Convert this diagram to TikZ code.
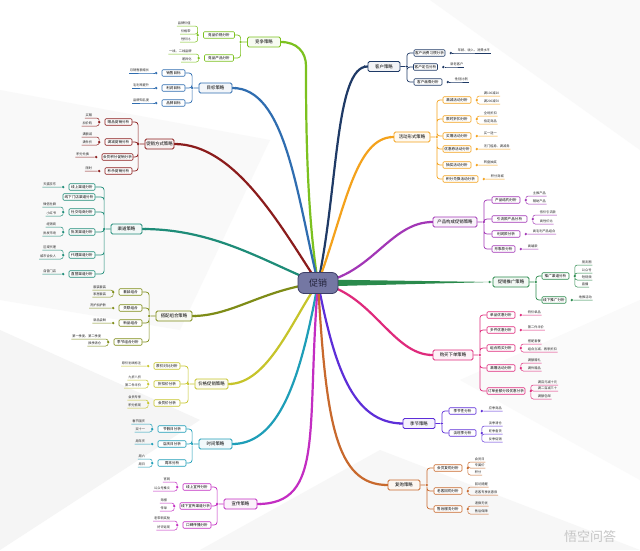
\documentclass[tikz,border=0pt]{standalone}
\usepackage{fontspec}
\setmainfont{Noto Sans CJK SC}
\usepackage{xcolor}
\usetikzlibrary{positioning,calc}
\pgfdeclarelayer{bg}
\pgfsetlayers{bg,main}
\newcommand{\fsz}[1]{\fontsize{#1}{#1}\selectfont}
\definecolor{clime}{HTML}{7CC11F}
\definecolor{cblue}{HTML}{2F6DB0}
\definecolor{cmaroon}{HTML}{8B1C1C}
\definecolor{cteal}{HTML}{1E8C78}
\definecolor{colive}{HTML}{7E8C17}
\definecolor{cyell}{HTML}{C6C42A}
\definecolor{ccyan}{HTML}{1E9EB8}
\definecolor{cmag}{HTML}{C32DC2}
\definecolor{cnavy}{HTML}{1F3A66}
\definecolor{corange}{HTML}{F4A21C}
\definecolor{cpurp}{HTML}{A236B6}
\definecolor{cgreenr}{HTML}{2A8A4C}
\definecolor{cpink}{HTML}{DF2A7C}
\definecolor{cviol}{HTML}{5D2ED8}
\definecolor{cbrown}{HTML}{C8692D}
\definecolor{cslate}{HTML}{7477A3}
\definecolor{cslated}{HTML}{3C3E66}
\tikzset{
  root/.style={draw=cslated, fill=cslate, rounded corners=6pt, line width=0.8pt,
    minimum width=40pt, minimum height=21pt, inner sep=1pt, font=\fsz{9}, text=cslated!60!black},
  topic/.style={draw=#1, fill=#1!6, rounded corners=1.5pt, line width=0.8pt,
    minimum width=33pt, minimum height=10pt, inner sep=1pt, font=\fsz{4.4}},
  subbox/.style={draw=#1, fill=white, rounded corners=1pt, line width=0.6pt,
    minimum width=28pt, minimum height=6.5pt, inner sep=0.8pt, font=\fsz{3.6}},
  leafL/.style={anchor=south east, inner sep=0.7pt, font=\fsz{3.2}, text=black!85},
  leafR/.style={anchor=south west, inner sep=0.7pt, font=\fsz{3.2}, text=black!85},
  jn/.style={circle, fill=#1, inner sep=0pt, minimum size=2.6pt},
  trunk/.style={draw=#1, line width=2.2pt, line cap=round},
  lk/.style={draw=#1, line width=0.7pt, rounded corners=3pt},
  lf/.style={draw=#1, line width=0.5pt, rounded corners=2.5pt}
}
\begin{document}
\begin{tikzpicture}[x=1pt,y=-1pt]
\useasboundingbox (0,0) rectangle (640,550);
\begin{pgfonlayer}{bg}
\fill[white] (0,0) rectangle (640,550);
\fill[gray!5] (0,90) -- (270,140) -- (180,330) -- (0,300) -- cycle;
\fill[gray!8] (0,330) -- (200,420) -- (0,550) -- cycle;
\fill[gray!6] (200,550) -- (380,450) -- (640,550) -- cycle;
\fill[gray!5] (430,0) -- (640,0) -- (640,150) -- cycle;
\fill[gray!4] (460,380) -- (640,300) -- (640,480) -- cycle;
\end{pgfonlayer}

\node[root] (c) at (318,283) {促销};

%%% 竞争策略
\node[topic=clime] (g) at (264,42) {竞争策略};
\node[jn=clime, left=5pt of g] (gj) {};
\node[jn=clime, right=1.5pt of g] (ge) {};
\coordinate (gk) at (306,66);
\node[subbox=clime, minimum width=31pt] (g1) at (219,35) {竞品价格分析};
\node[subbox=clime, minimum width=29pt] (g2) at (219,58) {竞品产品分析};
\node[jn=clime, left=4pt of g1] (g1j) {};
\node[jn=clime, left=4pt of g2] (g2j) {};
\node[leafL] (g1a) at (191.5,26) {品牌价值};
\node[leafL] (g1b) at (191.5,34) {价格带};
\node[leafL] (g1c) at (191.5,42) {性价比};
\node[leafL] (g2a) at (192.5,54) {一线、二线品牌};
\node[leafL] (g2b) at (192.5,62) {差异化};
\draw[lk=clime] (g) -- (gj) (gj) |- (g1) (gj) |- (g2);
\draw[lf=clime] (g1j) |- (g1a.south east) -- (g1a.south west) (g1j) |- (g1b.south east) -- (g1b.south west)
  (g1j) |- (g1c.south east) -- (g1c.south west);
\draw[lf=clime] (g2j) |- (g2a.south east) -- (g2a.south west) (g2j) |- (g2b.south east) -- (g2b.south west);

%%% 目标策略
\node[topic=cblue] (b) at (215.5,88) {目标策略};
\node[jn=cblue, left=5pt of b] (bj) {};
\node[jn=cblue, right=1.5pt of b] (be) {};
\node[subbox=cblue, minimum width=23pt] (b1) at (173.5,73) {销售目标};
\node[subbox=cblue, minimum width=23pt] (b2) at (173.5,88) {利润目标};
\node[subbox=cblue, minimum width=23pt] (b3) at (173.5,103) {品牌目标};
\node[jn=cblue, left=4pt of b1] (b1j) {};
\node[jn=cblue, left=4pt of b2] (b2j) {};
\node[jn=cblue, left=4pt of b3] (b3j) {};
\node[leafL] (b1a) at (150,73) {月销售额增长};
\node[leafL] (b2a) at (150,88) {毛利率提升};
\node[leafL] (b3a) at (150,103) {品牌知名度};
\draw[lk=cblue] (b) -- (bj) (bj) |- (b1) (bj) |- (b2) (bj) |- (b3);
\draw[lf=cblue] (b1j) -- (b1a.south east) -- (b1a.south west) (b2j) -- (b2a.south east) -- (b2a.south west)
  (b3j) -- (b3a.south east) -- (b3a.south west);

%%% 促销方式策略
\node[topic=cmaroon, minimum width=29pt] (r) at (159.5,144) {促销方式策略};
\node[jn=cmaroon, left=5pt of r] (rj) {};
\node[jn=cmaroon, right=1.5pt of r] (re) {};
\node[subbox=cmaroon, minimum width=27pt] (r1) at (118.5,122) {赠品促销分析};
\node[subbox=cmaroon, minimum width=27pt] (r2) at (118.5,142) {满减促销分析};
\node[subbox=cmaroon, minimum width=31pt] (r3) at (117.5,157) {会员积分促销分析};
\node[subbox=cmaroon, minimum width=27pt] (r4) at (118.5,171) {秒杀促销分析};
\node[jn=cmaroon, left=4pt of r1] (r1j) {};
\node[jn=cmaroon, left=4pt of r2] (r2j) {};
\node[jn=cmaroon, left=4pt of r3] (r3j) {};
\node[jn=cmaroon, left=4pt of r4] (r4j) {};
\node[leafL] (r1a) at (93,118) {买赠};
\node[leafL] (r1b) at (93,126) {加价购};
\node[leafL] (r2a) at (93,137) {满额减};
\node[leafL] (r2b) at (93,145) {满件折};
\node[leafL] (r3a) at (90,157) {积分兑换};
\node[leafL] (r4a) at (93,171) {限时};
\draw[lk=cmaroon] (r) -- (rj) (rj) |- (r1) (rj) |- (r2) (rj) |- (r3) (rj) |- (r4);
\draw[lf=cmaroon] (r1j) |- (r1a.south east) -- (r1a.south west) (r1j) |- (r1b.south east) -- (r1b.south west)
  (r2j) |- (r2a.south east) -- (r2a.south west) (r2j) |- (r2b.south east) -- (r2b.south west)
  (r3j) -- (r3a.south east) -- (r3a.south west) (r4j) -- (r4a.south east) -- (r4a.south west);

%%% 渠道策略
\node[topic=cteal, minimum width=31pt] (t) at (126.5,229) {渠道策略};
\node[jn=cteal, left=5pt of t] (tj) {};
\node[jn=cteal, right=1.5pt of t] (te) {};
\node[subbox=cteal, minimum width=26pt] (t1) at (82,187) {线上渠道分析};
\node[subbox=cteal, minimum width=32pt] (t2) at (79,197) {线下门店渠道分析};
\node[subbox=cteal, minimum width=26pt] (t3) at (82,212) {社交电商分析};
\node[subbox=cteal, minimum width=26pt] (t4) at (82,232) {批发渠道分析};
\node[subbox=cteal, minimum width=26pt] (t5) at (82,255) {代理渠道分析};
\node[subbox=cteal, minimum width=26pt] (t6) at (82,274) {直营渠道分析};
\node[jn=cteal, left=4pt of t1] (t1j) {};
\node[jn=cteal, left=4pt of t3] (t3j) {};
\node[jn=cteal, left=4pt of t4] (t4j) {};
\node[jn=cteal, left=4pt of t5] (t5j) {};
\node[jn=cteal, left=4pt of t6] (t6j) {};
\node[leafL] (t1a) at (57,187) {天猫京东};
\node[leafL] (t3a) at (57,207) {微信社群};
\node[leafL] (t3b) at (57,216) {小红书};
\node[leafL] (t4a) at (57,227) {经销商};
\node[leafL] (t4b) at (57,236) {批发市场};
\node[leafL] (t5a) at (57,250) {区域代理};
\node[leafL] (t5b) at (57,259) {城市合伙人};
\node[leafL] (t6a) at (57,274) {自营门店};
\draw[lk=cteal] (t) -- (tj) (tj) |- (t1) (tj) |- (t2) (tj) |- (t3) (tj) |- (t4) (tj) |- (t5) (tj) |- (t6);
\draw[lf=cteal] (t1j) -- (t1a.south east) -- (t1a.south west)
  (t3j) |- (t3a.south east) -- (t3a.south west) (t3j) |- (t3b.south east) -- (t3b.south west)
  (t4j) |- (t4a.south east) -- (t4a.south west) (t4j) |- (t4b.south east) -- (t4b.south west)
  (t5j) |- (t5a.south east) -- (t5a.south west) (t5j) |- (t5b.south east) -- (t5b.south west)
  (t6j) -- (t6a.south east) -- (t6a.south west);

%%% 搭配组合策略
\node[topic=colive, minimum width=36pt] (o) at (174,316) {搭配组合策略};
\node[jn=colive, left=5pt of o] (oj) {};
\node[jn=colive, right=1.5pt of o] (oe) {};
\node[subbox=colive, minimum width=23pt] (o1) at (130.5,292) {套装组合};
\node[subbox=colive, minimum width=23pt] (o2) at (130.5,308) {关联组合};
\node[subbox=colive, minimum width=23pt] (o3) at (130.5,323) {新品组合};
\node[subbox=colive, minimum width=28pt] (o4) at (128,342) {季节组合分析};
\node[jn=colive, left=4pt of o1] (o1j) {};
\node[jn=colive, left=4pt of o2] (o2j) {};
\node[jn=colive, left=4pt of o3] (o3j) {};
\node[jn=colive, left=4pt of o4] (o4j) {};
\node[leafL] (o1a) at (107,290) {服装套装};
\node[leafL] (o1b) at (107,297) {家居套装};
\node[leafL] (o2a) at (107,308) {洗护加护肤};
\node[leafL] (o3a) at (107,323) {新品尝鲜};
\node[leafL] (o4a) at (102,339) {第一季度、第二季度};
\node[leafL] (o4b) at (102,346) {换季清仓};
\draw[lk=colive] (o) -- (oj) (oj) |- (o1) (oj) |- (o2) (oj) |- (o3) (oj) |- (o4);
\draw[lf=colive] (o1j) |- (o1a.south east) -- (o1a.south west) (o1j) |- (o1b.south east) -- (o1b.south west)
  (o2j) -- (o2a.south east) -- (o2a.south west) (o3j) -- (o3a.south east) -- (o3a.south west)
  (o4j) |- (o4a.south east) -- (o4a.south west) (o4j) |- (o4b.south east) -- (o4b.south west);

%%% 价格促销策略
\node[topic=cyell] (ye) at (211.5,384) {价格促销策略};
\node[jn=cyell, left=5pt of ye] (yej) {};
\node[jn=cyell, right=1.5pt of ye] (yee) {};
\node[subbox=cyell, minimum width=26pt] (ye1) at (167,366) {原价对比分析};
\node[subbox=cyell, minimum width=26pt] (ye2) at (167,384) {折扣价分析};
\node[subbox=cyell, minimum width=26pt] (ye3) at (167,403) {会员价分析};
\node[jn=cyell, left=4pt of ye1] (ye1j) {};
\node[jn=cyell, left=4pt of ye2] (ye2j) {};
\node[jn=cyell, left=4pt of ye3] (ye3j) {};
\node[leafL] (ye1a) at (142,366) {原价划线标注};
\node[leafL] (ye2a) at (142,380) {九折八折};
\node[leafL] (ye2b) at (142,388) {第二件半价};
\node[leafL] (ye3a) at (142,400) {会员专享};
\node[leafL] (ye3b) at (142,408) {积分抵现};
\draw[lk=cyell] (ye) -- (yej) (yej) |- (ye1) (yej) |- (ye2) (yej) |- (ye3);
\draw[lf=cyell] (ye1j) -- (ye1a.south east) -- (ye1a.south west)
  (ye2j) |- (ye2a.south east) -- (ye2a.south west) (ye2j) |- (ye2b.south east) -- (ye2b.south west)
  (ye3j) |- (ye3a.south east) -- (ye3a.south west) (ye3j) |- (ye3b.south east) -- (ye3b.south west);

%%% 时间策略
\node[topic=ccyan] (cy) at (215.5,444) {时间策略};
\node[jn=ccyan, left=5pt of cy] (cyj) {};
\node[jn=ccyan, right=1.5pt of cy] (cye) {};
\node[subbox=ccyan] (cy1) at (172,429) {节假日分析};
\node[subbox=ccyan] (cy2) at (172,444) {店庆日分析};
\node[subbox=ccyan] (cy3) at (172,463) {周末分析};
\node[jn=ccyan, left=4pt of cy1] (cy1j) {};
\node[jn=ccyan, left=4pt of cy2] (cy2j) {};
\node[jn=ccyan, left=4pt of cy3] (cy3j) {};
\node[leafL] (cy1a) at (146,424) {春节国庆};
\node[leafL] (cy1b) at (146,432) {双十一};
\node[leafL] (cy2a) at (146,444) {周年庆};
\node[leafL] (cy3a) at (146,459) {周六};
\node[leafL] (cy3b) at (146,467) {周日};
\draw[lk=ccyan] (cy) -- (cyj) (cyj) |- (cy1) (cyj) |- (cy2) (cyj) |- (cy3);
\draw[lf=ccyan] (cy1j) |- (cy1a.south east) -- (cy1a.south west) (cy1j) |- (cy1b.south east) -- (cy1b.south west)
  (cy2j) -- (cy2a.south east) -- (cy2a.south west)
  (cy3j) |- (cy3a.south east) -- (cy3a.south west) (cy3j) |- (cy3b.south east) -- (cy3b.south west);

%%% 宣传策略
\node[topic=cmag] (m) at (240.5,504) {宣传策略};
\node[jn=cmag, left=5pt of m] (mj) {};
\node[jn=cmag, right=1.5pt of m] (me) {};
\node[subbox=cmag] (m1) at (197,487) {线上宣传分析};
\node[subbox=cmag, minimum width=31pt] (m2) at (195.5,506) {线下宣传渠道分析};
\node[subbox=cmag] (m3) at (197,525) {口碑传播分析};
\node[jn=cmag, left=4pt of m1] (m1j) {};
\node[jn=cmag, left=4pt of m2] (m2j) {};
\node[jn=cmag, left=4pt of m3] (m3j) {};
\node[leafL] (m1a) at (171,482) {官网};
\node[leafL] (m1b) at (171,491) {公众号推文};
\node[leafL] (m2a) at (168,503) {海报};
\node[leafL] (m2b) at (168,511) {传单};
\node[leafL] (m3a) at (171,521) {老带新奖励};
\node[leafL] (m3b) at (171,530) {好评返现};
\draw[lk=cmag] (m) -- (mj) (mj) |- (m1) (mj) |- (m2) (mj) |- (m3);
\draw[lf=cmag] (m1j) |- (m1a.south east) -- (m1a.south west) (m1j) |- (m1b.south east) -- (m1b.south west)
  (m2j) |- (m2a.south east) -- (m2a.south west) (m2j) |- (m2b.south east) -- (m2b.south west)
  (m3j) |- (m3a.south east) -- (m3a.south west) (m3j) |- (m3b.south east) -- (m3b.south west);

%%% 客户策略
\node[topic=cnavy, minimum width=32pt] (nv) at (384,66.5) {客户策略};
\node[jn=cnavy, right=5pt of nv] (nvj) {};
\node[jn=cnavy, left=1.5pt of nv] (nve) {};
\node[subbox=cnavy, minimum width=31pt] (nv1) at (429.5,53) {客户消费习惯分析};
\node[subbox=cnavy, minimum width=24pt] (nv2) at (425.5,67) {客户定位分析};
\node[subbox=cnavy] (nv3) at (428,82) {客户画像分析};
\node[jn=cnavy, right=4pt of nv1] (nv1j) {};
\node[jn=cnavy, right=4pt of nv2] (nv2j) {};
\node[jn=cnavy, right=4pt of nv3] (nv3j) {};
\node[leafR] (nv1a) at (457,53) {年龄、收入、消费水平};
\node[leafR] (nv2a) at (449.5,67) {新老客户};
\node[leafR] (nv3a) at (454,82) {性别比例};
\draw[lk=cnavy] (nv) -- (nvj) (nvj) |- (nv1) (nvj) |- (nv2) (nvj) |- (nv3);
\draw[lf=cnavy] (nv1j) -- (nv1a.south west) -- (nv1a.south east) (nv2j) -- (nv2a.south west) -- (nv2a.south east)
  (nv3j) -- (nv3a.south west) -- (nv3a.south east);

%%% 活动形式策略
\node[topic=corange, minimum width=36pt] (or) at (412,137) {活动形式策略};
\node[jn=corange, right=5pt of or] (orj) {};
\node[jn=corange, left=1.5pt of or] (ore) {};
\node[subbox=corange] (or1) at (457,100) {满减活动分析};
\node[subbox=corange] (or2) at (457,119) {限时折扣分析};
\node[subbox=corange] (or3) at (457,136) {买赠活动分析};
\node[subbox=corange] (or4) at (457,149) {优惠券活动分析};
\node[subbox=corange] (or5) at (457,165) {抽奖活动分析};
\node[subbox=corange, minimum width=35pt] (or6) at (460.5,179) {积分兑换活动分析};
\node[jn=corange, right=4pt of or1] (or1j) {};
\node[jn=corange, right=4pt of or2] (or2j) {};
\node[jn=corange, right=4pt of or3] (or3j) {};
\node[jn=corange, right=4pt of or4] (or4j) {};
\node[jn=corange, right=4pt of or5] (or5j) {};
\node[jn=corange, right=4pt of or6] (or6j) {};
\node[leafR] (or1a) at (483,96) {满100减20};
\node[leafR] (or1b) at (483,104) {满200减50};
\node[leafR] (or2a) at (483,116) {全场折扣};
\node[leafR] (or2b) at (483,124) {指定商品};
\node[leafR] (or3a) at (483,136) {买一送一};
\node[leafR] (or4a) at (483,149) {无门槛券、满减券};
\node[leafR] (or5a) at (483,165) {转盘抽奖};
\node[leafR] (or6a) at (490,179) {积分商城};
\draw[lk=corange] (or) -- (orj) (orj) |- (or1) (orj) |- (or2) (orj) |- (or3) (orj) |- (or4) (orj) |- (or5) (orj) |- (or6);
\draw[lf=corange] (or1j) |- (or1a.south west) -- (or1a.south east) (or1j) |- (or1b.south west) -- (or1b.south east)
  (or2j) |- (or2a.south west) -- (or2a.south east) (or2j) |- (or2b.south west) -- (or2b.south east)
  (or3j) -- (or3a.south west) -- (or3a.south east) (or4j) -- (or4a.south west) -- (or4a.south east)
  (or5j) -- (or5a.south west) -- (or5a.south east) (or6j) -- (or6a.south west) -- (or6a.south east);

%%% 产品构成促销策略
\node[topic=cpurp, minimum width=44pt] (p) at (455,222) {产品构成促销策略};
\node[jn=cpurp, right=5pt of p] (pj) {};
\node[jn=cpurp, left=1.5pt of p] (pe) {};
\node[subbox=cpurp] (p1) at (506,200) {产品结构分析};
\node[subbox=cpurp, minimum width=35pt] (p2) at (509.5,219) {引流款产品分析};
\node[subbox=cpurp] (p3) at (506,234) {利润款分析};
\node[subbox=cpurp, minimum width=23pt] (p4) at (503.5,249) {形象款分析};
\node[jn=cpurp, right=4pt of p1] (p1j) {};
\node[jn=cpurp, right=4pt of p2] (p2j) {};
\node[jn=cpurp, right=4pt of p3] (p3j) {};
\node[jn=cpurp, right=4pt of p4] (p4j) {};
\node[leafR] (p1a) at (532,196) {主推产品};
\node[leafR] (p1b) at (532,204) {辅助产品};
\node[leafR] (p2a) at (539,215) {低价引流款};
\node[leafR] (p2b) at (539,224) {高性价比};
\node[leafR] (p3a) at (532,234) {高毛利产品组合};
\node[leafR] (p4a) at (527,249) {高端款};
\draw[lk=cpurp] (p) -- (pj) (pj) |- (p1) (pj) |- (p2) (pj) |- (p3) (pj) |- (p4);
\draw[lf=cpurp] (p1j) |- (p1a.south west) -- (p1a.south east) (p1j) |- (p1b.south west) -- (p1b.south east)
  (p2j) |- (p2a.south west) -- (p2a.south east) (p2j) |- (p2b.south west) -- (p2b.south east)
  (p3j) -- (p3a.south west) -- (p3a.south east) (p4j) -- (p4a.south west) -- (p4a.south east);

%%% 促销推广策略
\node[topic=cgreenr, minimum width=36pt] (gr) at (511,282) {促销推广策略};
\node[jn=cgreenr, right=5pt of gr] (grj) {};
\node[jn=cgreenr, left=1.5pt of gr] (gre) {};
\node[subbox=cgreenr, minimum width=27pt] (gr1) at (555.5,276) {推广渠道分析};
\node[subbox=cgreenr, minimum width=24pt] (gr2) at (554,300) {线下推广分析};
\node[jn=cgreenr, right=4pt of gr1] (gr1j) {};
\node[jn=cgreenr, right=4pt of gr2] (gr2j) {};
\node[leafR] (gr1a) at (581,265) {朋友圈};
\node[leafR] (gr1b) at (581,273) {公众号};
\node[leafR] (gr1c) at (581,280) {短视频};
\node[leafR] (gr1d) at (581,287) {直播};
\node[leafR] (gr2a) at (578,300) {地推活动};
\draw[lk=cgreenr] (gr) -- (grj) (grj) |- (gr1) (grj) |- (gr2);
\draw[lf=cgreenr] (gr1j) |- (gr1a.south west) -- (gr1a.south east) (gr1j) |- (gr1b.south west) -- (gr1b.south east)
  (gr1j) |- (gr1c.south west) -- (gr1c.south east) (gr1j) |- (gr1d.south west) -- (gr1d.south east)
  (gr2j) -- (gr2a.south west) -- (gr2a.south east);

%%% 购买下单策略
\node[topic=cpink, minimum width=40pt] (pk) at (453,355) {购买下单策略};
\node[jn=cpink, right=5pt of pk] (pkj) {};
\node[jn=cpink, left=1.5pt of pk] (pke) {};
\node[subbox=cpink] (pk1) at (501,315) {单品优惠分析};
\node[subbox=cpink] (pk2) at (501,330) {多件优惠分析};
\node[subbox=cpink] (pk3) at (501,348) {组合购买分析};
\node[subbox=cpink] (pk4) at (501,368) {满赠活动分析};
\node[subbox=cpink, minimum width=38pt] (pk5) at (506,391) {订单金额分段优惠分析};
\node[jn=cpink, right=4pt of pk1] (pk1j) {};
\node[jn=cpink, right=4pt of pk2] (pk2j) {};
\node[jn=cpink, right=4pt of pk3] (pk3j) {};
\node[jn=cpink, right=4pt of pk4] (pk4j) {};
\node[jn=cpink, right=4pt of pk5] (pk5j) {};
\node[leafR] (pk1a) at (527,315) {特价单品};
\node[leafR] (pk2a) at (527,330) {第二件半价};
\node[leafR] (pk3a) at (527,344) {搭配套餐};
\node[leafR] (pk3b) at (527,352) {组合立减、再享折扣};
\node[leafR] (pk4a) at (527,363) {满额赠礼};
\node[leafR] (pk4b) at (527,371) {满件赠品};
\node[leafR] (pk5a) at (537,385) {满百元减十元};
\node[leafR] (pk5b) at (537,391) {满二百减三十};
\node[leafR] (pk5c) at (537,399) {满额包邮};
\draw[lk=cpink] (pk) -- (pkj) (pkj) |- (pk1) (pkj) |- (pk2) (pkj) |- (pk3) (pkj) |- (pk4) (pkj) |- (pk5);
\draw[lf=cpink] (pk1j) -- (pk1a.south west) -- (pk1a.south east) (pk2j) -- (pk2a.south west) -- (pk2a.south east)
  (pk3j) |- (pk3a.south west) -- (pk3a.south east) (pk3j) |- (pk3b.south west) -- (pk3b.south east)
  (pk4j) |- (pk4a.south west) -- (pk4a.south east) (pk4j) |- (pk4b.south west) -- (pk4b.south east)
  (pk5j) |- (pk5a.south west) -- (pk5a.south east) (pk5j) |- (pk5b.south west) -- (pk5b.south east)
  (pk5j) |- (pk5c.south west) -- (pk5c.south east);

%%% 季节策略
\node[topic=cviol, minimum width=32pt] (pb) at (419,423.5) {季节策略};
\node[jn=cviol, right=5pt of pb] (pbj) {};
\node[jn=cviol, left=1.5pt of pb] (pbe) {};
\node[subbox=cviol, minimum width=27pt] (pb1) at (462.5,411) {季节性分析};
\node[subbox=cviol, minimum width=27pt] (pb2) at (462.5,433) {淡旺季分析};
\node[jn=cviol, right=4pt of pb1] (pb1j) {};
\node[jn=cviol, right=4pt of pb2] (pb2j) {};
\node[leafR] (pb1a) at (488,411) {应季商品};
\node[leafR] (pb2a) at (488,426) {淡季清仓};
\node[leafR] (pb2b) at (488,434) {旺季备货};
\node[leafR] (pb2c) at (488,442) {反季促销};
\draw[lk=cviol] (pb) -- (pbj) (pbj) |- (pb1) (pbj) |- (pb2);
\draw[lf=cviol] (pb1j) -- (pb1a.south west) -- (pb1a.south east)
  (pb2j) |- (pb2a.south west) -- (pb2a.south east) (pb2j) |- (pb2b.south west) -- (pb2b.south east)
  (pb2j) |- (pb2c.south west) -- (pb2c.south east);

%%% 复购策略
\node[topic=cbrown, minimum width=32pt] (br) at (404,485) {复购策略};
\node[jn=cbrown, right=5pt of br] (brj) {};
\node[jn=cbrown, left=1.5pt of br] (bre) {};
\node[subbox=cbrown] (br1) at (448,468) {会员复购分析};
\node[subbox=cbrown] (br2) at (448,491) {老客回购分析};
\node[subbox=cbrown] (br3) at (448,509) {售后服务分析};
\node[jn=cbrown, right=4pt of br1] (br1j) {};
\node[jn=cbrown, right=4pt of br2] (br2j) {};
\node[jn=cbrown, right=4pt of br3] (br3j) {};
\node[leafR] (br1a) at (474,462) {会员日};
\node[leafR] (br1b) at (474,468) {专属价};
\node[leafR] (br1c) at (474,475) {积分};
\node[leafR] (br2a) at (474,487) {回访提醒};
\node[leafR] (br2b) at (474,495) {老客专享优惠券};
\node[leafR] (br3a) at (474,506) {退换无忧};
\node[leafR] (br3b) at (474,514) {售后保障};
\draw[lk=cbrown] (br) -- (brj) (brj) |- (br1) (brj) |- (br2) (brj) |- (br3);
\draw[lf=cbrown] (br1j) |- (br1a.south west) -- (br1a.south east) (br1j) |- (br1b.south west) -- (br1b.south east)
  (br1j) |- (br1c.south west) -- (br1c.south east)
  (br2j) |- (br2a.south west) -- (br2a.south east) (br2j) |- (br2b.south west) -- (br2b.south east)
  (br3j) |- (br3a.south west) -- (br3a.south east) (br3j) |- (br3b.south west) -- (br3b.south east);

%%% watermark
\node[font=\fsz{13}, text=gray!45] (wm) at (590,537) {悟空问答};

%%% trunks
\begin{pgfonlayer}{bg}
\draw[trunk=clime] (c.center) .. controls (306,210) and (306,110) .. (gk) .. controls +(0,-14) and +(16,0) .. (g.east);
\draw[trunk=cblue] (c.center) .. controls (296,190) and (285,88) .. (b.east);
\draw[trunk=cmaroon] (c.center) .. controls (280,225) and (235,144) .. (r.east);
\draw[trunk=cteal] (c.center) .. controls (265,262) and (215,229) .. (t.east);
\draw[trunk=colive] (c.center) .. controls (262,290) and (232,316) .. (o.east);
\draw[trunk=cyell] (c.center) .. controls (292,320) and (268,384) .. (ye.east);
\draw[trunk=ccyan] (c.center) .. controls (302,370) and (282,444) .. (cy.east);
\draw[trunk=cmag] (c.center) .. controls (306,430) and (325,504) .. (m.east);
\draw[trunk=cnavy] (c.center) .. controls (338,190) and (335,66) .. (nv.west);
\draw[trunk=corange] (c.center) .. controls (345,210) and (355,137) .. (or.west);
\draw[trunk=cpurp] (c.center) .. controls (372,275) and (390,222) .. (p.west);
\fill[cgreenr] ($(c.center)+(0,-3.5)$) -- (gr.west) -- ($(c.center)+(0,3.5)$) -- cycle;
\draw[trunk=cpink] (c.center) .. controls (372,292) and (392,355) .. (pk.west);
\draw[trunk=cviol] (c.center) .. controls (334,365) and (352,423) .. (pb.west);
\draw[trunk=cbrown] (c.center) .. controls (326,420) and (335,485) .. (br.west);
\end{pgfonlayer}
\end{tikzpicture}
\end{document}
